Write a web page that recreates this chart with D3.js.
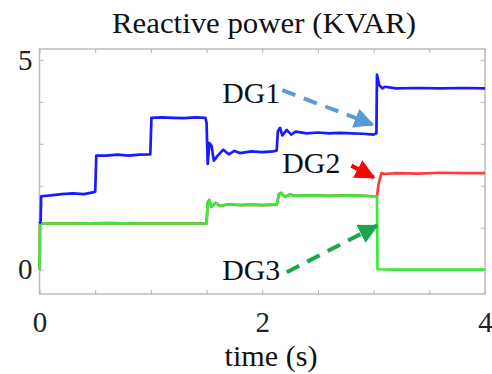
<!DOCTYPE html>
<html>
<head>
<meta charset="utf-8">
<script src="https://cdn.jsdelivr.net/npm/d3@7"></script>
<style>
  body { margin: 0; background: #fff; }
  svg { display: block; }
</style>
</head>
<body>
<svg id="chart" width="492" height="374"></svg>
<script>
// reactive power traces: [time (s), KVAR]
const dg1 = [
  [0, 1.1], [0.01, 1.15], [0.015, 1.75], [0.1, 1.77], [0.2, 1.8], [0.3, 1.82], [0.4, 1.8], [0.49, 1.85],
  [0.5, 1.86], [0.51, 2.72], [0.6, 2.72], [0.7, 2.74], [0.8, 2.72], [0.9, 2.74], [0.995, 2.75],
  [1.005, 3.62], [1.1, 3.63], [1.2, 3.62], [1.3, 3.61], [1.4, 3.63], [1.49, 3.62],
  [1.5, 3.5], [1.51, 2.52], [1.525, 3.02], [1.545, 2.95], [1.565, 2.6], [1.6, 2.72], [1.65, 2.86],
  [1.7, 2.75], [1.75, 2.83], [1.8, 2.78], [1.9, 2.82], [2.0, 2.8], [2.1, 2.82], [2.13, 2.84],
  [2.14, 3.3], [2.16, 3.38], [2.18, 3.2], [2.22, 3.33], [2.26, 3.22], [2.3, 3.29], [2.4, 3.25],
  [2.5, 3.27], [2.6, 3.25], [2.7, 3.26], [2.8, 3.25], [2.9, 3.24], [3.0, 3.22], [3.025, 3.25],
  [3.03, 4.65], [3.05, 4.4], [3.08, 4.32], [3.1, 4.36], [3.2, 4.32], [3.4, 4.33], [3.6, 4.32],
  [3.8, 4.33], [4.0, 4.32]
];
const dg3 = [
  [0, 0], [0.005, 1.1], [0.3, 1.1], [0.6, 1.11], [0.9, 1.1], [1.2, 1.1], [1.5, 1.1],
  [1.51, 1.6], [1.525, 1.66], [1.545, 1.5], [1.58, 1.59], [1.62, 1.52], [1.7, 1.56], [1.8, 1.54],
  [1.9, 1.55], [2.0, 1.54], [2.13, 1.55], [2.15, 1.8], [2.17, 1.83], [2.2, 1.74], [2.25, 1.79],
  [2.3, 1.76], [2.45, 1.77], [2.6, 1.76], [2.8, 1.77], [3.0, 1.75], [3.03, 1.75],
  [3.035, 0.01], [3.2, 0], [3.6, 0], [4.0, 0]
];
// DG2 sits under DG3 until the switch at 3.03 s
const dg2Tail = [
  [3.045, 2.05], [3.07, 2.3], [3.1, 2.28], [3.2, 2.3], [3.4, 2.29], [3.6, 2.31], [3.8, 2.3], [4.0, 2.3]
];
const dg2 = dg3.filter(d => d[0] <= 3.03).concat(dg2Tail);

const xTicks = [0, 0.5, 1, 1.5, 2, 2.5, 3, 3.5, 4];
const xLabels = [0, 2, 4];
const yTicks = [0, 1, 2, 3, 4, 5];
const yLabels = [0, 5];

// annotations: label, text pos, arrow start, arrow end (data units)
const notes = [
  { name: "DG1", tx: 1.64, ty: 3.97, from: [2.18, 4.28], to: [2.99, 3.46], color: "#5b9bd5", dash: "14,9" },
  { name: "DG2", tx: 2.18, ty: 2.3, from: [2.8, 2.48], to: [3.0, 2.2], color: "#ff0000", dash: null },
  { name: "DG3", tx: 1.64, ty: -0.24, from: [2.22, -0.06], to: [3.03, 1.05], color: "#1aa64a", dash: "14,9" }
];

const FONT = "Liberation Serif, Times New Roman, Times, serif";
const svg = d3.select("#chart");
const mLeft = 39.5, mRight = 485, mTop = 49, mBottom = 294;

const x = d3.scaleLinear().domain([0, 4]).range([mLeft, mRight]);
const y = d3.scaleLinear().domain([-0.58, 5.26]).range([mBottom, mTop]);

function label(sel, len) {
  return sel.style("font-family", FONT).style("font-size", "29px").attr("fill", "#111")
    .attr("textLength", len).attr("lengthAdjust", "spacingAndGlyphs");
}

// title
svg.append("text")
  .attr("x", 264).attr("y", 33)
  .attr("text-anchor", "middle")
  .call(label, 304)
  .text("Reactive power (KVAR)");

// frame
svg.append("rect")
  .attr("x", mLeft).attr("y", mTop)
  .attr("width", mRight - mLeft).attr("height", mBottom - mTop)
  .attr("fill", "none").attr("stroke", "#bdbdbd").attr("stroke-width", 1.5);

const fmtX = d => xLabels.includes(d) ? d : "";
const fmtY = d => yLabels.includes(d) ? d : "";

function styleAxis(g) {
  g.attr("font-family", null).attr("font-size", null);
  g.select(".domain").remove();
  g.selectAll(".tick line").attr("stroke", "#b5b5b5");
  g.selectAll(".tick text").attr("fill", "#222")
    .style("font-family", FONT).style("font-size", "29px");
}

svg.append("g").attr("transform", `translate(0,${mBottom})`)
  .call(d3.axisBottom(x).tickValues(xTicks).tickFormat(fmtX).tickSizeInner(-4).tickSizeOuter(0).tickPadding(17))
  .call(styleAxis);
svg.append("g").attr("transform", `translate(0,${mTop})`)
  .call(d3.axisTop(x).tickValues(xTicks).tickFormat("").tickSizeInner(-4).tickSizeOuter(0))
  .call(styleAxis);
svg.append("g").attr("transform", `translate(${mLeft},0)`)
  .call(d3.axisLeft(y).tickValues(yTicks).tickFormat(fmtY).tickSizeInner(-4).tickSizeOuter(0).tickPadding(7))
  .call(styleAxis);
svg.append("g").attr("transform", `translate(${mRight},0)`)
  .call(d3.axisRight(y).tickValues(yTicks).tickFormat("").tickSizeInner(-4).tickSizeOuter(0))
  .call(styleAxis);

// x axis title
svg.append("text")
  .attr("x", 271).attr("y", 366)
  .attr("text-anchor", "middle")
  .call(label, 93)
  .text("time (s)");

// traces
const line = d3.line().x(d => x(d[0])).y(d => y(d[1]));
const series = [
  { data: dg2, color: "#ff3b3b" },
  { data: dg3, color: "#3be83b" },
  { data: dg1, color: "#1a1aff" }
];
svg.append("g").selectAll("path")
  .data(series)
  .join("path")
  .attr("d", d => line(d.data))
  .attr("fill", "none")
  .attr("stroke", d => d.color)
  .attr("stroke-width", 2.7)
  .attr("stroke-linejoin", "round");

// arrow heads
const defs = svg.append("defs");
notes.forEach((n, i) => {
  defs.append("marker")
    .attr("id", "head" + i)
    .attr("viewBox", "0 0 10 10")
    .attr("refX", 9).attr("refY", 5)
    .attr("markerWidth", 5).attr("markerHeight", 5)
    .attr("markerUnits", "strokeWidth")
    .attr("orient", "auto")
    .append("path")
    .attr("d", "M0,0 L10,5 L0,10 Z")
    .attr("fill", n.color);
});

const ann = svg.append("g");
notes.forEach((n, i) => {
  ann.append("text")
    .attr("x", x(n.tx)).attr("y", y(n.ty))
    .call(label, 58)
    .text(n.name);
  ann.append("line")
    .attr("x1", x(n.from[0])).attr("y1", y(n.from[1]))
    .attr("x2", x(n.to[0])).attr("y2", y(n.to[1]))
    .attr("stroke", n.color)
    .attr("stroke-width", 4)
    .attr("stroke-dasharray", n.dash)
    .attr("marker-end", `url(#head${i})`);
});
</script>
</body>
</html>
